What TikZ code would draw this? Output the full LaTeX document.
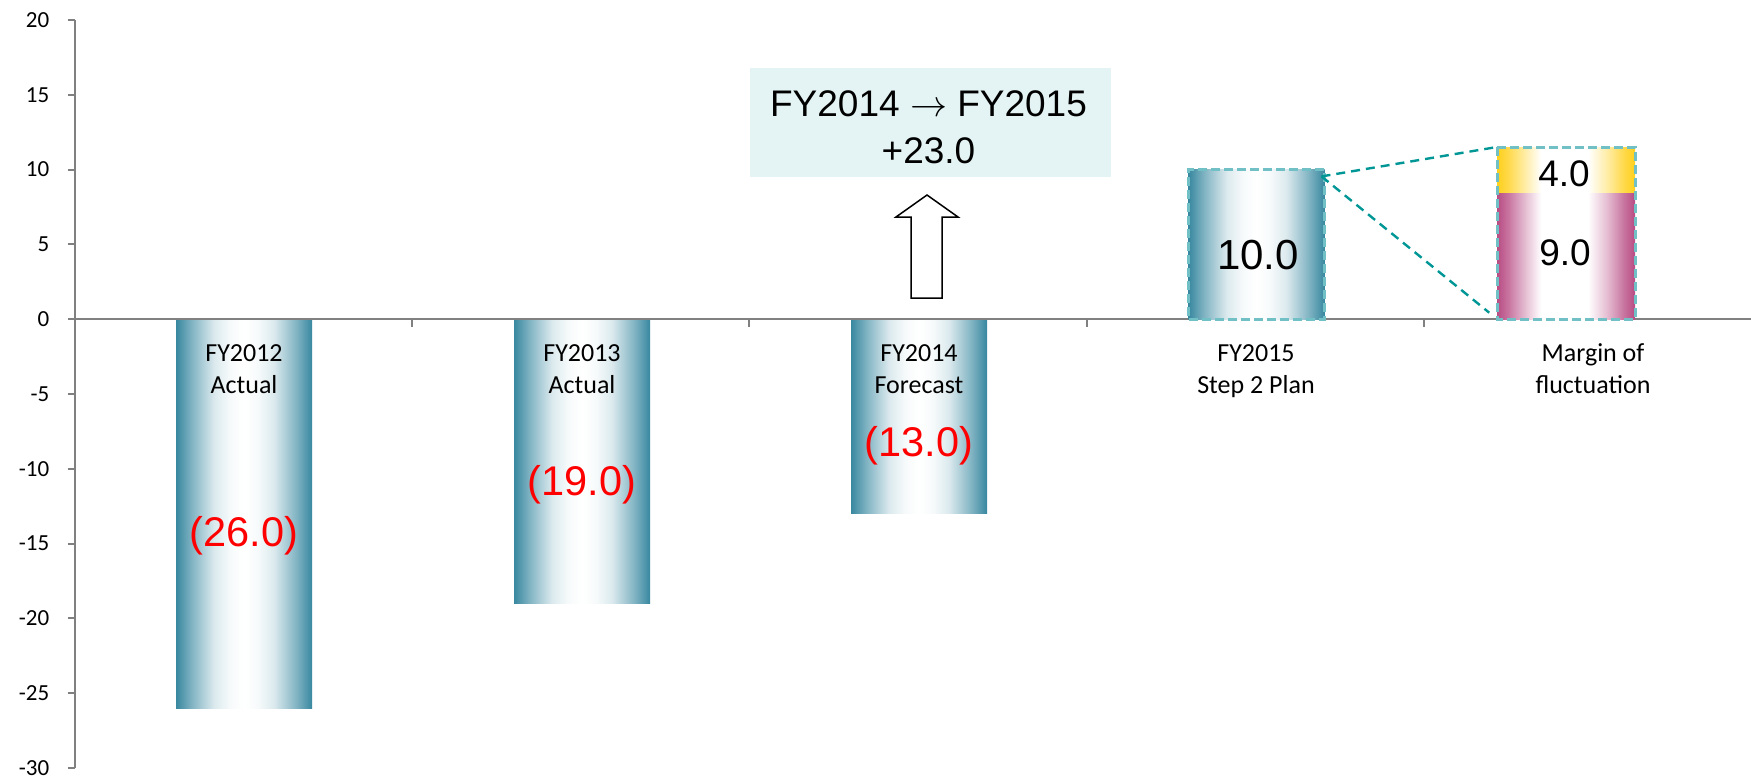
\RequirePackage{fix-cm}
\documentclass[tikz,border=0pt]{standalone}
\usepackage{fontspec}
\usetikzlibrary{calc}
\setmainfont{Carlito}
\newfontfamily\arialn{Liberation Sans}

\definecolor{barteal}{RGB}{56,136,160}
\definecolor{marpink}{RGB}{184,76,132}
\definecolor{maryel}{RGB}{255,208,28}
\definecolor{axisgray}{RGB}{128,128,128}
\definecolor{dashteal}{RGB}{112,192,198}
\definecolor{linkteal}{RGB}{0,150,150}
\definecolor{notefill}{RGB}{228,244,244}
\definecolor{valred}{RGB}{255,0,0}

% horizontal colour profiles; the visible part of a shading spans 25bp..75bp
\pgfdeclarehorizontalshading{tealshade}{100bp}{color(0bp)=(barteal); color(25bp)=(barteal); color(31bp)=(barteal!62!white); color(39bp)=(barteal!18!white); color(45bp)=(barteal!4!white); color(50bp)=(white); color(55bp)=(barteal!4!white); color(61bp)=(barteal!18!white); color(69bp)=(barteal!62!white); color(75bp)=(barteal); color(100bp)=(barteal)}
\pgfdeclarehorizontalshading{pinkshade}{100bp}{color(0bp)=(marpink); color(25bp)=(marpink); color(29bp)=(marpink!78!white); color(35bp)=(marpink!38!white); color(41bp)=(white); color(58bp)=(white); color(65bp)=(marpink!38!white); color(71bp)=(marpink!78!white); color(75bp)=(marpink); color(100bp)=(marpink)}
\pgfdeclarehorizontalshading{yelshade}{100bp}{color(0bp)=(maryel); color(25bp)=(maryel); color(29bp)=(maryel!80!white); color(35bp)=(maryel!40!white); color(41bp)=(white); color(58bp)=(white); color(65bp)=(maryel!40!white); color(71bp)=(maryel!80!white); color(75bp)=(maryel); color(100bp)=(maryel)}

\tikzset{
  barbase/.style={inner sep=0pt, outer sep=0pt},
  tealbar/.style={barbase, shading=tealshade, minimum width=136pt},
  margbar/.style={barbase, minimum width=138pt},
  dashbox/.style={draw=dashteal, line width=3pt, dash pattern=on 9pt off 4pt},
  linkline/.style={draw=linkteal, line width=2.4pt, dash pattern=on 9pt off 6pt},
  axisline/.style={draw=axisgray, line width=2pt},
  ylab/.style={inner sep=0pt, anchor=east, font=\fontsize{23}{26}\selectfont},
  catlab/.style={inner sep=0pt, anchor=base, font=\fontsize{26}{32}\selectfont},
  redval/.style={inner sep=0pt, anchor=base, text=valred, font=\arialn\fontsize{41.5}{48}\selectfont},
  blackval/.style={inner sep=0pt, anchor=base, font=\arialn\fontsize{42}{48}\selectfont},
  margval/.style={inner sep=0pt, anchor=base, font=\arialn\fontsize{37}{42}\selectfont},
  notebox/.style={fill=notefill, inner sep=0pt, minimum width=361pt, minimum height=109pt},
  notetext/.style={inner sep=0pt, anchor=base, font=\arialn\fontsize{37}{47}\selectfont},
  hollow/.style={draw=black, fill=white, line width=1.5pt, line join=miter}
}

\begin{document}
\begin{tikzpicture}[x=1pt, y=-1pt]
\useasboundingbox (0,0) rectangle (1751,779);

% negative bars
\node[tealbar, anchor=north, minimum height=389pt] (b12) at (244,319) {};
\node[tealbar, anchor=north, minimum height=284pt] (b13) at (582,319) {};
\node[tealbar, anchor=north, minimum height=194.5pt] (b14) at (919,319) {};

% axes
\draw[axisline] (74.5,20) -- (74.5,768);
\foreach \v [count=\i from 0] in {20,15,10,5,0,-5,-10,-15,-20,-25,-30} {
  \pgfmathsetmacro{\yy}{20+74.8*\i}
  \draw[axisline] (67.5,\yy) -- (74.5,\yy);
  \node[ylab] (y\i) at (49.5,\yy) {\v};
}
\draw[axisline] (74.5,319) -- (1751,319);
\foreach \xx in {412,749,1087,1424} {
  \draw[axisline] (\xx,319) -- (\xx,327);
}

% FY2015 plan bar
\node[tealbar, dashbox, anchor=south, minimum height=149.6pt] (b15) at (1256.5,319) {};

% margin of fluctuation
\node[margbar, shading=yelshade, anchor=north, minimum height=46.5pt] (myel) at (1566,147) {};
\node[margbar, shading=pinkshade, anchor=south, minimum height=125.5pt] (mpink) at (1566,319) {};
\draw[dashbox] (myel.north west) rectangle (mpink.south east);

% zoom-out connectors
\coordinate (pivot) at ($(b15.north east)+(-3,7)$);
\draw[linkline] (pivot) -- (myel.north west);
\draw[linkline, shorten >=10pt] (pivot) -- (mpink.south west);

% category labels
\node[catlab] (c12a) at (244,361) {FY2012};
\node[catlab] (c12b) at (244,393) {Actual};
\node[catlab] (c13a) at (582,361) {FY2013};
\node[catlab] (c13b) at (582,393) {Actual};
\node[catlab] (c14a) at (919,361) {FY2014};
\node[catlab] (c14b) at (919,393) {Forecast};
\node[catlab] (c15a) at (1256,361) {FY2015};
\node[catlab] (c15b) at (1256,393) {Step 2 Plan};
\node[catlab] (cma) at (1593,361) {Margin of};
\node[catlab] (cmb) at (1593,393) {fluctuation};

% values
\node[redval] (v12) at (244,546) {(26.0)};
\node[redval] (v13) at (582,495) {(19.0)};
\node[redval] (v14) at (919,456) {(13.0)};
\node[blackval] (v15) at (1258,269) {10.0};
\node[margval] (vyel) at (1564,186) {4.0};
\node[margval] (vpink) at (1565,265) {9.0};

% change note and hollow arrow
\node[notebox] (note) at (930.5,122.5) {};
\node[notetext] (notea) at (928.5,116) {FY2014 $\rightarrow$ FY2015};
\node[notetext] (noteb) at (928.5,163) {+23.0};
\draw[hollow] (911,298) -- (911,217) -- (896,217) -- (927,195) -- (958,217) -- (942,217) -- (942,298) -- cycle;
\end{tikzpicture}
\end{document}
